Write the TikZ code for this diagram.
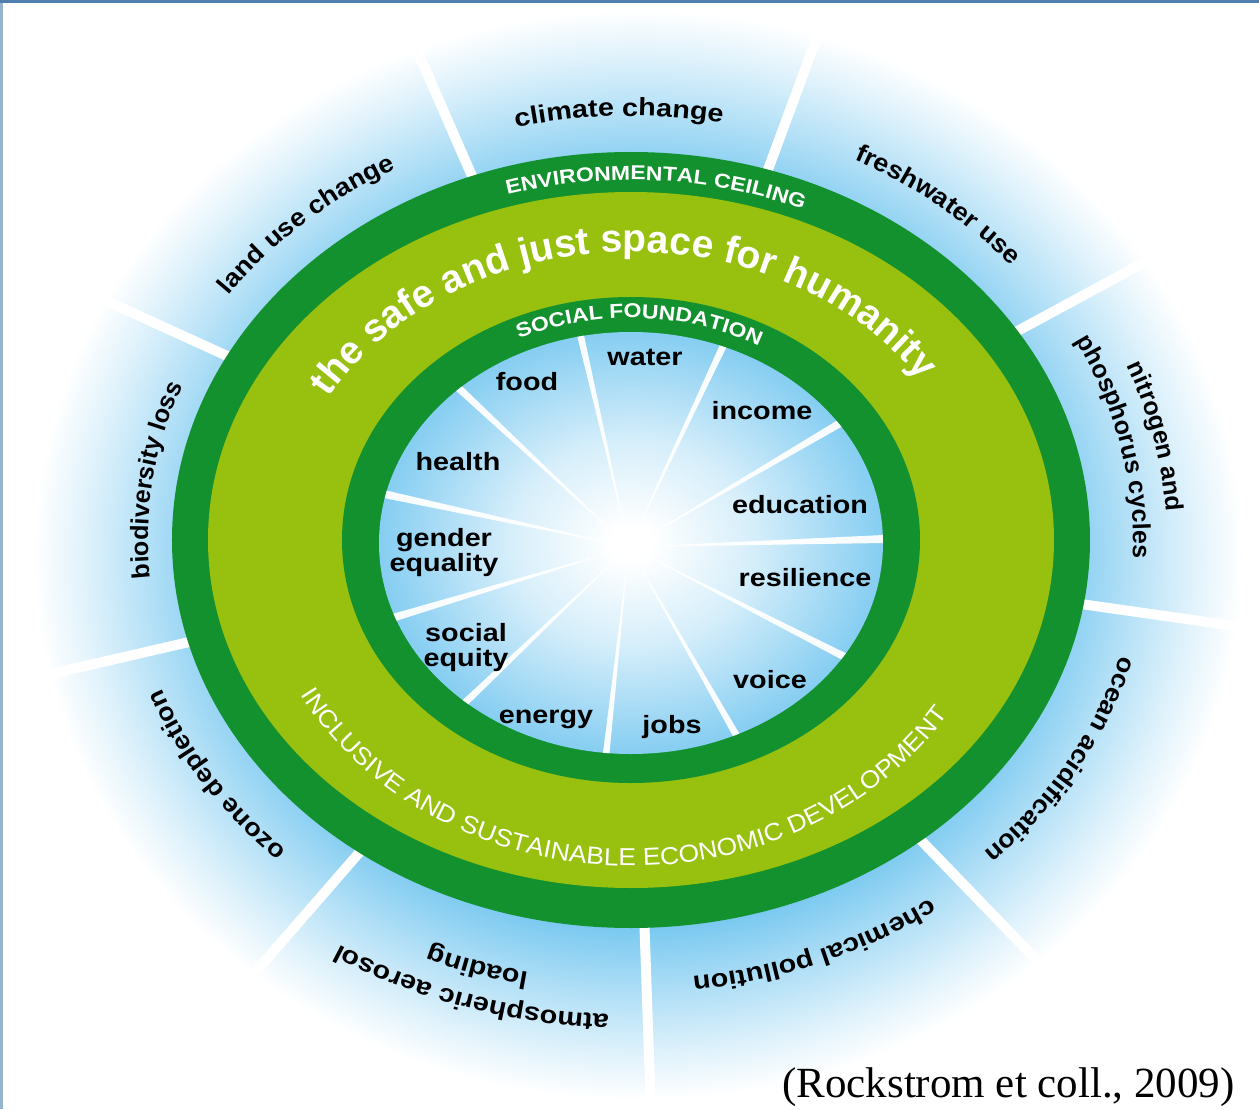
\documentclass[tikz,border=0pt]{standalone}
\usepackage{fontspec}
\setmainfont{Liberation Sans}
\newfontfamily\wideFont[FakeStretch=1.15]{Liberation Sans}
\newfontfamily\diagFont[FakeStretch=1.08]{Liberation Sans}
\newfontfamily\plainFont{Liberation Sans}
\newfontfamily\citeFont{Liberation Serif}
\usepackage{xcolor}
\usepackage{tikz}
\usetikzlibrary{decorations.text}
\definecolor{ceilingGreen}{HTML}{13912F}
\definecolor{spaceGreen}{HTML}{97C00F}
\definecolor{skyBlue}{HTML}{78C8F0}
\definecolor{frameBlue}{HTML}{4F7FAF}
\colorlet{skyMid}{skyBlue!60}
\colorlet{skyPale}{skyBlue!22}
\colorlet{skyCore}{skyBlue!30}
\colorlet{skyRim}{skyBlue!90}
\pgfdeclareradialshading{outerFade}{\pgfpoint{0bp}{0bp}}{color(0bp)=(skyBlue); color(17bp)=(skyBlue); color(20bp)=(skyMid); color(23bp)=(skyPale); color(25bp)=(white); color(50bp)=(white)}
\pgfdeclareradialshading{innerGlow}{\pgfpoint{0bp}{0bp}}{color(0bp)=(white); color(2bp)=(white); color(12bp)=(skyCore); color(25bp)=(skyRim); color(50bp)=(skyRim)}
\newcommand{\wideLabel}{\wideFont\bfseries\fontsize{25}{25}\selectfont}
\newcommand{\diagLabel}{\diagFont\bfseries\fontsize{25}{25}\selectfont}
\newcommand{\plainLabel}{\plainFont\bfseries\fontsize{25}{25}\selectfont}
% text on an elliptic arc: start angle, end angle, x radius, y radius, text
\newcommand{\arcText}[5]{\path[decorate, decoration={text along path, text align=center, text={#5}}] (#1:#3 and #4) arc[start angle=#1, end angle=#2, x radius=#3, y radius=#4];}

\begin{document}
\begin{tikzpicture} [
    x=1pt, y=1pt,
    gapLine/.style={white, line width=10},
    rayBeam/.style={fill=white, opacity=0.95},
    socialLabel/.style={font=\wideLabel, inner sep=0pt, align=center}
]
    \useasboundingbox (-631,-569) rectangle (628,540);

    % planetary boundaries
    \shade[shading=outerFade] (7,-15) ellipse [x radius=605, y radius=545];
    \foreach \a in {113.6, 69.7, 28.4, -8.1, -46, -88, 229, 193, 155.5}
        \draw[gapLine] (0,0) -- (\a:720);

    % rings
    \fill[ceilingGreen] (0,0) ellipse [x radius=459, y radius=388];
    \fill[spaceGreen] (0,0) ellipse [x radius=423, y radius=348];
    \fill[ceilingGreen] (0,0) ellipse [x radius=289, y radius=243];
    \shade[shading=innerGlow] (0,-3) ellipse [x radius=252, y radius=211];

    \coordinate (hub) at (-2,-7);
    \begin{scope}
        \clip (0,-3) ellipse [x radius=252, y radius=211];
        \foreach \a in {102.9, 64.9, 30.4, 1.8, -27, -60.3, -96.3, 223.5, 196.7, 167.8, 137}
            \fill[rayBeam] (hub) -- +(\a-0.9:320) -- +(\a+0.9:320) -- cycle;
    \end{scope}

    % outer labels
    \arcText{136.5}{46.5}{496}{424}{|\wideLabel|climate change}
    \arcText{178.5}{88.5}{494}{422}{|\diagLabel|land use change}
    \arcText{94.8}{4.8}{498}{425}{|\diagLabel|freshwater use}
    \arcText{57}{-33}{536}{458}{|\plainLabel|nitrogen and}
    \arcText{56.8}{-33.2}{502}{429}{|\plainLabel|phosphorus cycles}
    \arcText{16}{-74}{508}{434}{|\diagLabel|ocean acidification}
    \arcText{-22.5}{-112.5}{515}{440}{|\wideLabel|chemical pollution}
    \arcText{-63}{-153}{556}{475}{|\wideLabel|atmospheric aerosol}
    \arcText{-63.4}{-153.4}{516}{441}{|\wideLabel|loading}
    \arcText{-103.5}{-193.5}{500}{428}{|\diagLabel|ozone depletion}
    \arcText{217.3}{127.3}{483}{413}{|\plainLabel|biodiversity loss}

    % ring labels
    \arcText{126.4}{46.4}{433}{360}{|\color{white}\wideFont\bfseries\fontsize{20}{20}\selectfont|ENVIRONMENTAL CEILING}
    \arcText{162}{22}{348}{288}{|\color{white}\plainFont\bfseries\fontsize{39}{39}\selectfont|the safe and just space for humanity}
    \arcText{128}{48}{264}{222}{|\color{white}\wideFont\bfseries\fontsize{20}{20}\selectfont|SOCIAL FOUNDATION}
    \arcText{188}{348}{375}{326}{|\color{white}\diagFont\fontsize{24.5}{24.5}\selectfont|INCLUSIVE AND SUSTAINABLE ECONOMIC DEVELOPMENT}

    % social foundation
    \node[socialLabel] (water) at (14,183) {water};
    \node[socialLabel] (food) at (-104,158) {food};
    \node[socialLabel] (income) at (131,129) {income};
    \node[socialLabel] (health) at (-173,78) {health};
    \node[socialLabel] (education) at (169,35) {education};
    \node[socialLabel] (gender) at (-187,-13) {gender\\equality};
    \node[socialLabel] (resilience) at (174,-38) {resilience};
    \node[socialLabel] (equity) at (-165,-108) {social\\equity};
    \node[socialLabel] (voice) at (139,-140) {voice};
    \node[socialLabel] (energy) at (-85,-179) {energy};
    \node[socialLabel] (jobs) at (41,-187) {jobs};

    \node[anchor=base east, inner sep=0pt, font=\citeFont\fontsize{43}{43}\selectfont] (source) at (604,-557) {(Rockstrom et coll., 2009)};

    \draw[frameBlue!60, line width=6] (-631,-569) -- (-631,540);
    \draw[frameBlue, line width=6] (-631,540) -- (628,540);
\end{tikzpicture}
\end{document}
